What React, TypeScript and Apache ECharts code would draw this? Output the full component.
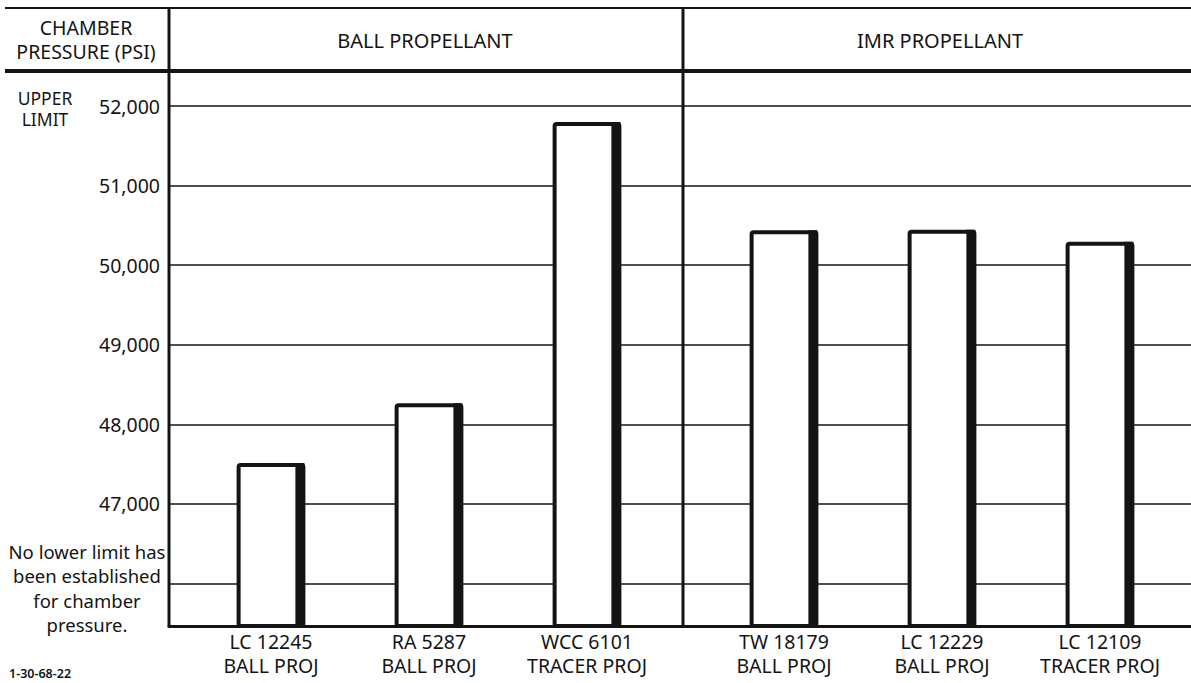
import React, { useEffect, useRef } from "react";
import * as echarts from "echarts";

const ballCategories = ["LC 12245\nBALL PROJ", "RA 5287\nBALL PROJ", "WCC 6101\nTRACER PROJ"];
const ballValues = [47490, 48240, 51775];
const imrCategories = ["TW 18179\nBALL PROJ", "LC 12229\nBALL PROJ", "LC 12109\nTRACER PROJ"];
const imrValues = [50415, 50420, 50270];
const gridValues = [46000, 47000, 48000, 49000, 50000, 51000, 52000];
const labelValues = [47000, 48000, 49000, 50000, 51000, 52000];
const Y_MIN = 45466;
const Y_MAX = 52440;

const FONT = "Noto Sans";
const INK = "#141414";

function renderBar(params: any, api: any) {
  const top = api.coord([api.value(0), api.value(1)]);
  const base = api.coord([api.value(0), Y_MIN]);
  const bw = api.size([1, 0])[0] * 0.41;
  const x0 = top[0] - bw / 2;
  const h = base[1] - top[1];
  return {
    type: "group",
    children: [
      {
        type: "rect",
        shape: { x: x0, y: top[1], width: bw, height: h, r: 2 },
        style: { fill: "#fff", stroke: INK, lineWidth: 4 },
      },
      {
        type: "rect",
        shape: { x: x0 + bw - 8, y: top[1] - 2, width: 9, height: h + 2 },
        style: { fill: INK },
      },
    ],
  };
}

export default function App() {
  const ref = useRef<HTMLDivElement>(null);
  useEffect(() => {
    if (!ref.current) return;
    const chart = echarts.init(ref.current, undefined, { renderer: "svg" });
    const hiddenY = (gi: number) => ({
      type: "value",
      gridIndex: gi,
      min: Y_MIN,
      max: Y_MAX,
      show: false,
      splitLine: { show: false },
    });
    const catX = (gi: number, cats: string[]) => ({
      type: "category",
      gridIndex: gi,
      data: cats,
      axisLine: { show: false },
      axisTick: { show: false },
      splitLine: { show: false },
      axisLabel: {
        margin: 3,
        fontFamily: FONT,
        fontSize: 19.5,
        lineHeight: 24,
        color: INK,
        interval: 0,
      },
    });
    const lines = [
      [5, 8, 1191, 8, 2],
      [5, 71, 1191, 71, 4],
      [169, 8, 169, 627, 3],
      [683, 8, 683, 627, 3],
    ];
    chart.setOption({
      animation: false,
      backgroundColor: "#fff",
      grid: [
        { left: 169, right: 0, top: 71, bottom: 57 },
        { left: 192, width: 474, top: 71, bottom: 57 },
        { left: 705, width: 474, top: 71, bottom: 57 },
      ],
      xAxis: [
        {
          type: "value",
          gridIndex: 0,
          min: 0,
          max: 1,
          axisLine: { show: true, lineStyle: { color: INK, width: 3 } },
          axisTick: { show: false },
          axisLabel: { show: false },
          splitLine: { show: false },
        },
        catX(1, ballCategories),
        catX(2, imrCategories),
      ],
      yAxis: [
        {
          type: "value",
          gridIndex: 0,
          min: Y_MIN,
          max: Y_MAX,
          axisLine: { show: false },
          axisTick: { show: false, customValues: gridValues },
          axisLabel: {
            customValues: labelValues,
            margin: 9,
            fontFamily: FONT,
            fontSize: 19.5,
            color: INK,
            formatter: (v: number) => v.toLocaleString("en-US"),
          },
          splitLine: { show: true, lineStyle: { color: INK, width: 1.5 } },
        },
        hiddenY(1),
        hiddenY(2),
      ],
      series: [
        {
          type: "custom",
          xAxisIndex: 1,
          yAxisIndex: 1,
          z: 5,
          renderItem: renderBar,
          encode: { x: 0, y: 1 },
          data: ballValues.map((v, i) => [i, v]),
        },
        {
          type: "custom",
          xAxisIndex: 2,
          yAxisIndex: 2,
          z: 5,
          renderItem: renderBar,
          encode: { x: 0, y: 1 },
          data: imrValues.map((v, i) => [i, v]),
        },
      ],
      graphic: [
        ...lines.map(([x1, y1, x2, y2, w]) => ({
          type: "line",
          z: 10,
          shape: { x1, y1, x2, y2 },
          style: { stroke: INK, lineWidth: w },
        })),
        {
          type: "text",
          x: 86,
          y: 39,
          style: {
            text: "CHAMBER\nPRESSURE (PSI)",
            textAlign: "center",
            textVerticalAlign: "middle",
            font: `19.5px ${FONT}`,
            lineHeight: 24,
            fill: INK,
          },
        },
        {
          type: "text",
          x: 425,
          y: 40,
          style: {
            text: "BALL PROPELLANT",
            textAlign: "center",
            textVerticalAlign: "middle",
            font: `20px ${FONT}`,
            fill: INK,
          },
        },
        {
          type: "text",
          x: 940,
          y: 40,
          style: {
            text: "IMR PROPELLANT",
            textAlign: "center",
            textVerticalAlign: "middle",
            font: `20px ${FONT}`,
            fill: INK,
          },
        },
        {
          type: "text",
          x: 45,
          y: 108,
          style: {
            text: "UPPER\nLIMIT",
            textAlign: "center",
            textVerticalAlign: "middle",
            font: `17.5px ${FONT}`,
            lineHeight: 21,
            fill: INK,
          },
        },
        {
          type: "text",
          x: 87,
          y: 588,
          style: {
            text: "No lower limit has\nbeen established\nfor chamber\npressure.",
            textAlign: "center",
            textVerticalAlign: "middle",
            font: `18.5px ${FONT}`,
            lineHeight: 24.5,
            fill: INK,
          },
        },
        {
          type: "text",
          x: 9,
          y: 673,
          style: {
            text: "1-30-68-22",
            textAlign: "left",
            textVerticalAlign: "middle",
            font: `600 12.5px ${FONT}`,
            fill: INK,
          },
        },
      ],
    });
    return () => chart.dispose();
  }, []);
  return (
    <div
      ref={ref}
      style={{ position: "fixed", left: 0, top: 0, width: 1191, height: 683 }}
    />
  );
}
